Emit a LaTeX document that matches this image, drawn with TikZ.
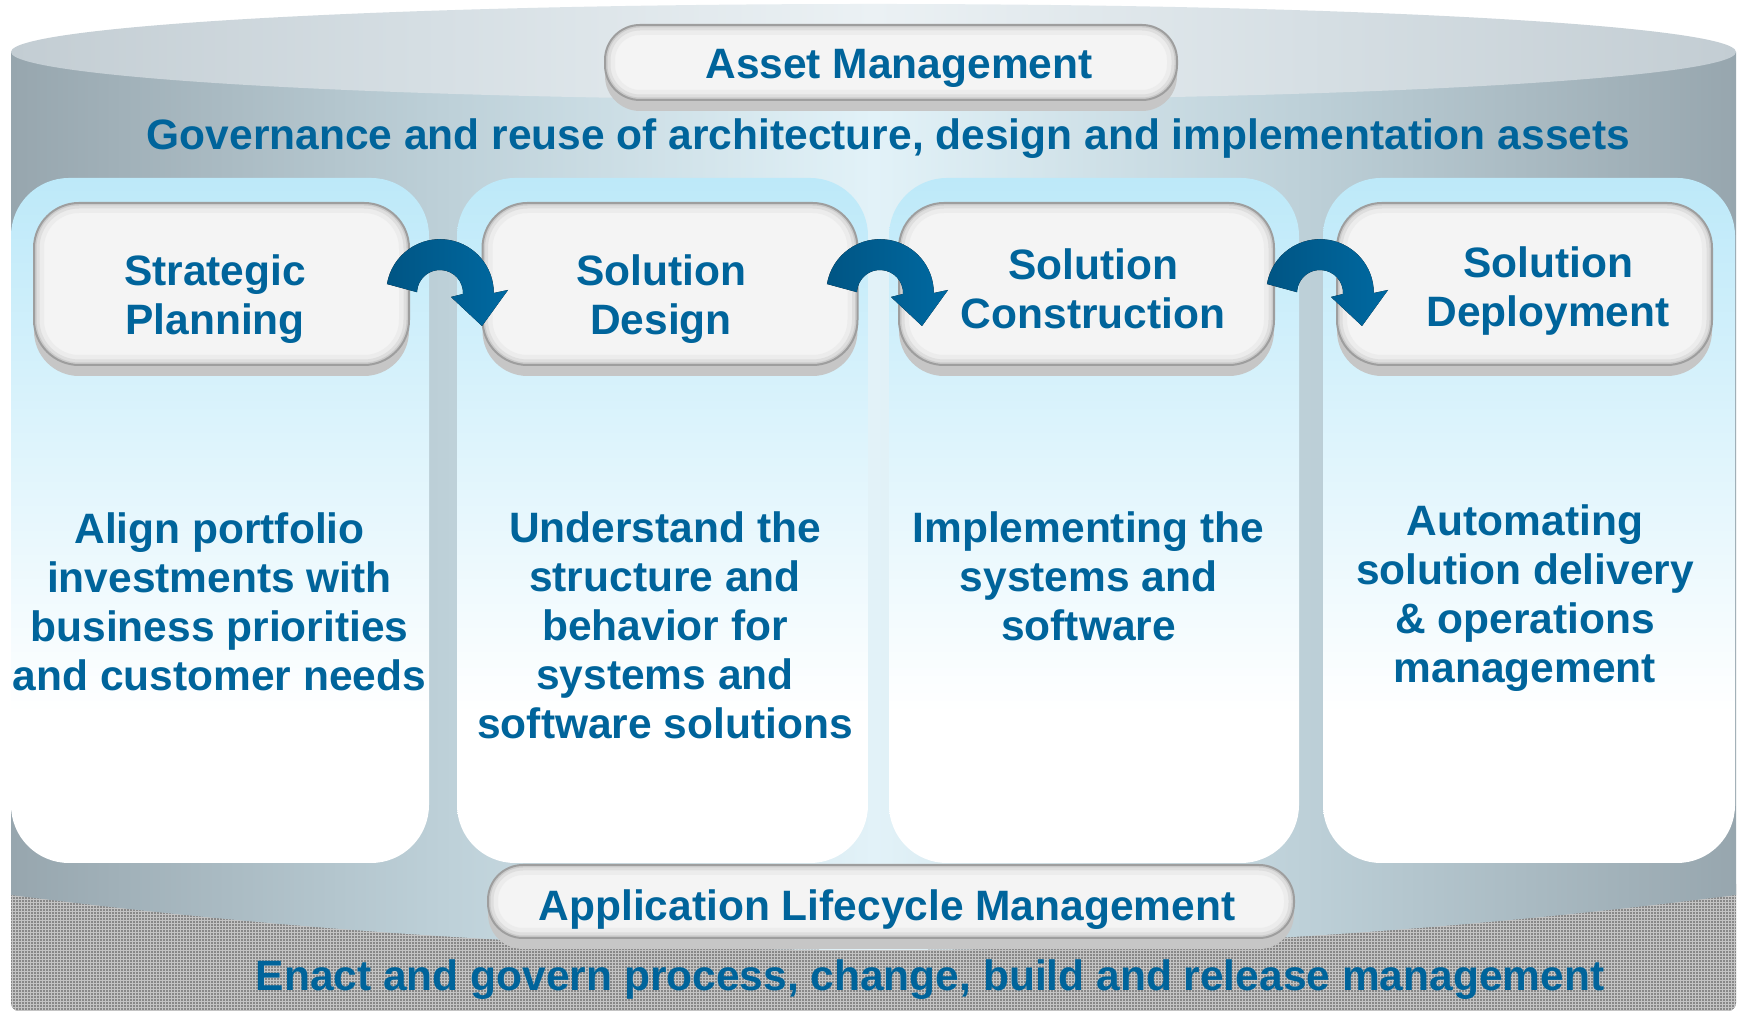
\documentclass[tikz,border=0pt]{standalone}
\usepackage{fontspec}
\setmainfont{Liberation Sans}
\usetikzlibrary{patterns,fadings}
\definecolor{txtblue}{HTML}{00649B}
\definecolor{arrA}{HTML}{005584}
\definecolor{arrB}{HTML}{0069A1}
\definecolor{bodyE}{HTML}{97A6AE}
\definecolor{bodyQ}{HTML}{BDD0D8}
\definecolor{bodyM}{HTML}{E2F2F8}
\definecolor{topE}{HTML}{C3CDD3}
\definecolor{topQ}{HTML}{D6DFE4}
\definecolor{topM}{HTML}{EBF1F4}
\definecolor{colTop}{HTML}{BDE9F9}
\definecolor{boxFill}{HTML}{F4F4F4}
\definecolor{boxEdge}{HTML}{9E9E9E}
\definecolor{boxShadow}{HTML}{C6C6C6}
\definecolor{boxLa}{HTML}{ECECEC}
\definecolor{boxLb}{HTML}{DEDEDE}
\definecolor{boxLc}{HTML}{CBCBCB}
\definecolor{dotBase}{HTML}{888888}
\definecolor{dotLine}{HTML}{C4C4C4}
\pgfdeclarehorizontalshading{cylbody}{100bp}{color(0bp)=(bodyE); color(25bp)=(bodyE); color(37.5bp)=(bodyQ); color(50bp)=(bodyM); color(62.5bp)=(bodyQ); color(75bp)=(bodyE); color(100bp)=(bodyE)}
\pgfdeclarehorizontalshading{cyltop}{100bp}{color(0bp)=(topE); color(25bp)=(topE); color(37.5bp)=(topQ); color(50bp)=(topM); color(62.5bp)=(topQ); color(75bp)=(topE); color(100bp)=(topE)}
\pgfdeclareverticalshading{colshade}{100bp}{color(0bp)=(white); color(25bp)=(white); color(36bp)=(white); color(75bp)=(colTop); color(100bp)=(colTop)}
\tikzfading[name=sheenfade, left color=transparent!100, middle color=transparent!55, right color=transparent!100]
\tikzset{
  txt/.style={text=txtblue, font=\fontsize{42.5pt}{49pt}\selectfont\bfseries, align=center, inner sep=0pt},
  gbox/.style={rounded corners=#1, fill=boxFill, draw=boxEdge, line width=2pt, inner sep=0pt,
    preaction={fill=boxShadow, transform canvas={yshift=-11pt}},
    path picture={
      \draw[line width=20pt, boxLa, rounded corners=#1] (path picture bounding box.south west) rectangle (path picture bounding box.north east);
      \draw[line width=11pt, boxLb, rounded corners=#1] (path picture bounding box.south west) rectangle (path picture bounding box.north east);
      \draw[line width=5pt, boxLc, rounded corners=#1] (path picture bounding box.south west) rectangle (path picture bounding box.north east);
    }},
  column/.style={shading=colshade, rounded corners=58pt},
  dotted area/.style={rounded corners=8pt}
}
\newcommand\bendarrow[1]{%
  \fill[left color=arrA, right color=arrB, shift={(#1)}]
    (170.4:53.8) arc[start angle=170.4, end angle=0, radius=53.8]
    -- (68,3) -- (42,-33) -- (11,-4) -- (23,-1)
    arc[start angle=-2.5, end angle=178, radius=23] -- cycle;}
\begin{document}
\begin{tikzpicture}[x=1pt,y=1pt]
\useasboundingbox (0,0) rectangle (1738,1016);
\fill[white] (0,0) rectangle (1738,1016);
% bottom textured base
\fill[dotBase, dotted area] (11,5) rectangle (1736,140);
\fill[pattern=grid, pattern color=dotLine, dotted area] (11,5) rectangle (1736,140);
% cylinder body
\shade[shading=cylbody] (11,964) -- (11,121) .. controls (586,47.7) and (1161,47.7) .. (1736,121) -- (1736,964) -- cycle;
% top surface
\shade[shading=cyltop] (873.5,964) ellipse [x radius=862.5, y radius=48];
% columns
\shade[column] (11,153) rectangle (429,838);
\shade[column] (457,153) rectangle (868,838);
\shade[column] (889,153) rectangle (1299,838);
\shade[column] (1323,153) rectangle (1735,838);
\begin{scope}
  \clip[rounded corners=58pt] (457,153) rectangle (868,838) (889,153) rectangle (1299,838);
  \fill[white, path fading=sheenfade] (640,153) rectangle (1170,838);
\end{scope}
% boxes
\node[gbox=35pt, minimum width=572pt, minimum height=75pt] (assetbox) at (891,953.5) {};
\node[gbox=45pt, minimum width=375pt, minimum height=162pt] (b1) at (221.5,732) {};
\node[gbox=45pt, minimum width=375pt, minimum height=162pt] (b2) at (670,732) {};
\node[gbox=45pt, minimum width=375pt, minimum height=162pt] (b3) at (1086.5,732) {};
\node[gbox=45pt, minimum width=375pt, minimum height=162pt] (b4) at (1524.5,732) {};
\node[gbox=35pt, minimum width=806pt, minimum height=73pt] (almbox) at (891,114.5) {};
% arrows
\coordinate (a1) at (440,723);
\coordinate (a2) at (880,723);
\coordinate (a3) at (1320,723);
\bendarrow{a1}
\bendarrow{a2}
\bendarrow{a3}
% texts
\node[txt] (tAsset) at (899,948) {Asset Management};
\node[txt] (tGov) at (888.5,877) {Governance and reuse of architecture, design and implementation assets};
\node[txt] (t1) at (215,717) {Strategic\\Planning};
\node[txt] (t2) at (661,717) {Solution\\Design};
\node[txt] (t3) at (1093,727) {Solution\\Construction};
\node[txt] (t4) at (1548,725) {Solution\\Deployment};
\node[txt] (d1) at (219.5,414.5) {Align portfolio\\investments with\\business priorities\\and customer needs};
\node[txt] (d2) at (665,390.5) {Understand the\\structure and\\behavior for\\systems and\\software solutions};
\node[txt] (d3) at (1088.5,439.5) {Implementing the\\systems and\\software};
\node[txt] (d4) at (1525,418) {Automating\\solution delivery\\\& operations\\management};
\node[txt] (tALM) at (887,106) {Application Lifecycle Management};
\node[txt] (tEnact) at (930,36) {Enact and govern process, change, build and release management};
\end{tikzpicture}
\end{document}
